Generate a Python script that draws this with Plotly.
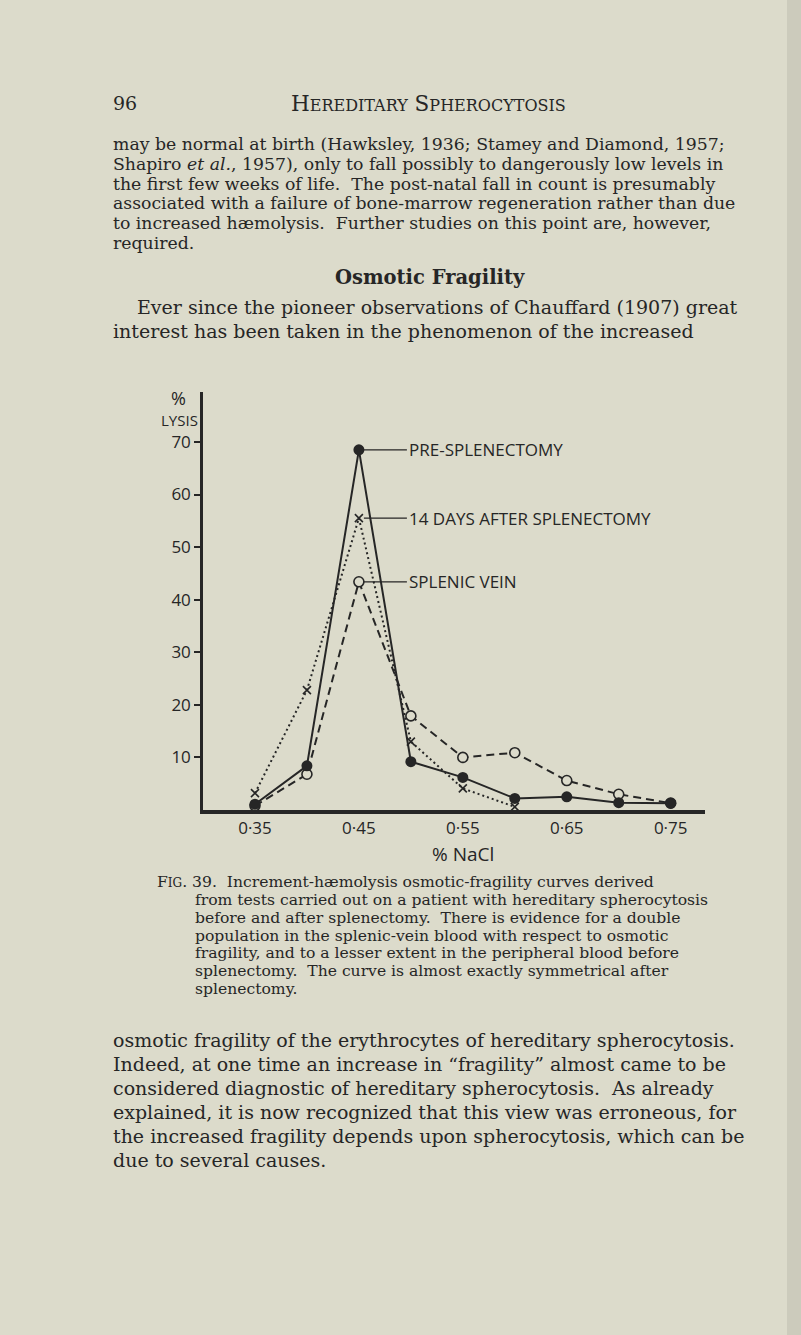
import plotly.graph_objects as go

W, H = 801, 1335
PAGE = "#dcdbcb"
INK = "#262626"

# ── values ───────────────────────────────────────────────────────────────────
nacl = [0.35, 0.40, 0.45, 0.50, 0.55, 0.60, 0.65, 0.70, 0.75]
pre_splenectomy = [1.1, 8.4, 68.5, 9.2, 6.2, 2.2, 2.5, 1.4, 1.3]
nacl_14_days = [0.35, 0.40, 0.45, 0.50, 0.55, 0.60]
after_14_days = [3.2, 22.8, 55.5, 13.0, 4.1, 0.6]
splenic_vein = [0.8, 6.8, 43.4, 17.9, 10.0, 10.9, 5.6, 3.0, 1.3]

x_ticks = [0.35, 0.45, 0.55, 0.65, 0.75]
x_ticktext = ["0·35", "0·45", "0·55", "0·65", "0·75"]
y_ticks = [10, 20, 30, 40, 50, 60, 70]

curve_labels = ["PRE-SPLENECTOMY", "14 DAYS AFTER SPLENECTOMY", "SPLENIC VEIN"]

# ── page text ────────────────────────────────────────────────────────────────
page_number = "96"
running_head = ("H<span style='font-size:16px'>EREDITARY</span> "
                "S<span style='font-size:16px'>PHEROCYTOSIS</span>")
para_1 = [
    "may be normal at birth (Hawksley, 1936; Stamey and Diamond, 1957;",
    "Shapiro <i>et al.</i>, 1957), only to fall possibly to dangerously low levels in",
    "the first few weeks of life.  The post-natal fall in count is presumably",
    "associated with a failure of bone-marrow regeneration rather than due",
    "to increased hæmolysis.  Further studies on this point are, however,",
    "required.",
]
section_title = "Osmotic Fragility"
para_2 = [
    "Ever since the pioneer observations of Chauffard (1907) great",
    "interest has been taken in the phenomenon of the increased",
]
caption = [
    "F<span style='font-size:12px'>IG</span>. 39.  Increment-hæmolysis osmotic-fragility curves derived",
    "from tests carried out on a patient with hereditary spherocytosis",
    "before and after splenectomy.  There is evidence for a double",
    "population in the splenic-vein blood with respect to osmotic",
    "fragility, and to a lesser extent in the peripheral blood before",
    "splenectomy.  The curve is almost exactly symmetrical after",
    "splenectomy.",
]
para_3 = [
    "osmotic fragility of the erythrocytes of hereditary spherocytosis.",
    "Indeed, at one time an increase in “fragility” almost came to be",
    "considered diagnostic of hereditary spherocytosis.  As already",
    "explained, it is now recognized that this view was erroneous, for",
    "the increased fragility depends upon spherocytosis, which can be",
    "due to several causes.",
]

SERIF = "DejaVu Serif"
SANS = "Open Sans"


def px(x):
    return x / W


def py(y):
    return 1 - y / H


def text_line(txt, x, y, size, family=SERIF, anchor="left", color=INK):
    return dict(text=txt, x=px(x), y=py(y), xref="paper", yref="paper",
                xanchor=anchor, yanchor="middle", showarrow=False,
                font=dict(family=family, size=size, color=color))


fig = go.Figure()

# splenic vein: dashed, open circles
fig.add_trace(go.Scatter(
    x=nacl, y=splenic_vein, mode="lines+markers", name="SPLENIC VEIN",
    line=dict(color=INK, width=2, dash="8px,5px"),
    marker=dict(symbol="circle", size=10, color=PAGE, line=dict(color=INK, width=1.6)),
))
# 14 days after splenectomy: dotted, crosses
fig.add_trace(go.Scatter(
    x=nacl_14_days, y=after_14_days, mode="lines+markers", name="14 DAYS AFTER SPLENECTOMY",
    line=dict(color=INK, width=2, dash="2px,3px"),
    marker=dict(symbol="x-thin", size=8, color=INK, line=dict(color=INK, width=1.6)),
))
# pre-splenectomy: solid, filled circles
fig.add_trace(go.Scatter(
    x=nacl, y=pre_splenectomy, mode="lines+markers", name="PRE-SPLENECTOMY",
    line=dict(color=INK, width=2),
    marker=dict(symbol="circle", size=11, color=INK),
))

annotations = []

# curve labels with leader lines from the peak markers
for label, y_val in zip(curve_labels, [pre_splenectomy[2], after_14_days[2], splenic_vein[2]]):
    annotations.append(dict(
        x=0.45, y=y_val, xref="x", yref="y", text=label,
        showarrow=True, arrowhead=0, arrowwidth=1.3, arrowcolor=INK,
        ax=48, ay=0, xanchor="left", yanchor="middle", standoff=5,
        font=dict(family=SANS, size=17, color=INK),
    ))

# axis titles
annotations.append(text_line("%", 178, 398, 18, family=SANS, anchor="center"))
annotations.append(text_line("LYSIS", 200, 420, 15, family=SANS, anchor="right"))
annotations.append(text_line("% NaCl", 463, 854, 19, family=SANS, anchor="center"))

# page text
annotations.append(text_line(page_number, 111, 103, 19))
annotations.append(text_line(running_head, 428, 103, 21.5, anchor="center"))
for i, line in enumerate(para_1):
    annotations.append(text_line(line, 111, 144 + i * 19.8, 17.3))
annotations.append(dict(text="<b>" + section_title + "</b>", x=px(430), y=py(278),
                        xref="paper", yref="paper", showarrow=False, yanchor="middle",
                        font=dict(family=SERIF, size=19.5, color=INK)))
annotations.append(text_line(para_2[0], 135, 307, 19))
annotations.append(text_line(para_2[1], 111, 330.5, 19))
annotations.append(text_line(caption[0], 155, 882, 15.6))
for i, line in enumerate(caption[1:]):
    annotations.append(text_line(line, 193, 900 + i * 17.8, 15.6))
for i, line in enumerate(para_3):
    annotations.append(text_line(line, 111, 1040 + i * 24, 19))

fig.update_layout(
    width=W, height=H,
    margin=dict(l=0, r=0, t=0, b=0),
    paper_bgcolor=PAGE, plot_bgcolor=PAGE,
    showlegend=False,
    annotations=annotations,
    shapes=[dict(type="rect", xref="paper", yref="paper", x0=px(787), x1=1, y0=0, y1=1,
                 fillcolor="rgba(90,90,80,0.12)", line=dict(width=0), layer="below")],
    xaxis=dict(
        domain=[px(203), px(705)], range=[0.30, 0.783],
        showline=True, linewidth=4, linecolor=INK, mirror=False,
        showgrid=False, zeroline=False, ticks="",
        tickvals=x_ticks, ticktext=x_ticktext,
        tickfont=dict(family=SANS, size=17, color=INK),
    ),
    yaxis=dict(
        domain=[py(810), py(392)], range=[0, 79.5],
        showline=True, linewidth=2.5, linecolor=INK,
        showgrid=False, zeroline=False,
        ticks="outside", ticklen=6, tickwidth=1.5, tickcolor=INK,
        tickvals=y_ticks,
        tickfont=dict(family=SANS, size=17, color=INK),
    ),
)

# drop the browser's default body margin so the page fills the window
fig.write_html("out.html", config={"displayModeBar": False},
               post_script="document.body.style.margin = '0px';")
